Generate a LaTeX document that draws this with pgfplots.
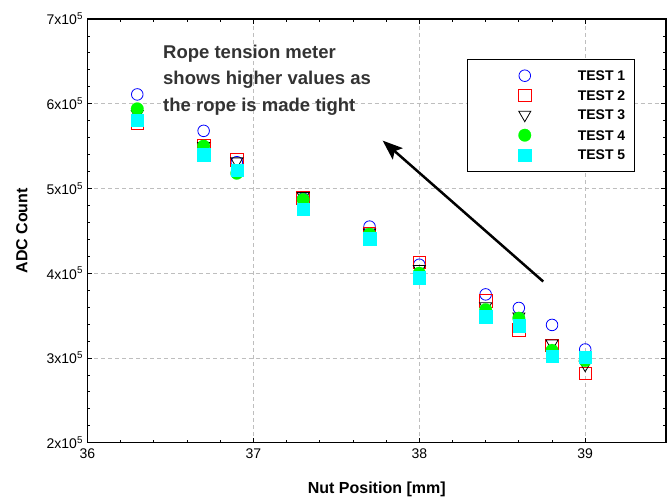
\documentclass[border=0pt]{standalone}
\usepackage{pgfplots}
\pgfplotsset{compat=1.18}
\usepackage{fontspec}
\setmainfont{Liberation Sans}
\usetikzlibrary{arrows.meta}
\definecolor{tblue}{RGB}{0,0,255}
\definecolor{tred}{RGB}{255,0,0}
\definecolor{tgreen}{RGB}{0,255,0}
\definecolor{tcyan}{RGB}{0,255,255}
\definecolor{gridgray}{RGB}{190,190,190}
\begin{document}
\begin{tikzpicture}
\begin{axis}[
  scale only axis, width=578.5pt, height=423.7pt,
  xmin=36, xmax=39.487, ymin=2e5, ymax=7e5,
  xtick={36,37,38,39}, xticklabels={36,37,38,39},
  ytick={2e5,3e5,4e5,5e5,6e5,7e5},
  yticklabels={2x10\textsuperscript{5},3x10\textsuperscript{5},4x10\textsuperscript{5},5x10\textsuperscript{5},6x10\textsuperscript{5},7x10\textsuperscript{5}},
  scaled y ticks=false, scaled x ticks=false,
  minor x tick num=4, minor y tick num=4,
  tick align=inside,
  major tick length=5pt, minor tick length=3pt,
  tick style={black, line width=0.8pt},
  axis line style={black, line width=1.3pt},
  grid=major,
  major grid style={gridgray, line width=0.7pt, dash pattern=on 4pt off 3pt},
  ticklabel style={font=\fontsize{14}{16}\selectfont},
  xticklabel style={yshift=-2.4pt},
  yticklabel style={xshift=-1pt},
  xlabel={Nut Position [mm]},
  ylabel={ADC Count},
  every axis x label/.style={at={(axis description cs:0.5,0)}, anchor=base, yshift=-50.3pt, font=\bfseries\fontsize{16}{18}\selectfont},
  every axis y label/.style={at={(axis description cs:-0.1135,0.5)}, rotate=90, anchor=center, font=\bfseries\fontsize{16}{18}\selectfont},
  legend style={at={(rel axis cs:0.6565,0.9056)}, anchor=north west, draw=black, line width=1pt, fill=white,
    inner xsep=9pt, inner ysep=10.2pt, row sep=7.2pt,
    nodes={inner sep=0pt, text depth=0pt},
    font=\bfseries\fontsize{14}{16}\selectfont},
  legend cell align=left,
  legend image code/.code={\path[draw=none,fill=none] (0pt,-6pt) rectangle (101pt,6pt);
    \draw[mark repeat=2,mark phase=2,#1] plot coordinates {(0pt,0pt) (48pt,0pt) (96pt,0pt)};},
]
\addplot[tblue, only marks, mark=o, mark size=5.8pt, mark options={solid, draw=tblue, fill=none, line width=0.8pt}] coordinates {
(36.3,6.11e5) (36.7,5.68e5) (36.9,5.31e5) (37.3,4.88e5) (37.7,4.55e5)
(38.0,4.10e5) (38.4,3.75e5) (38.6,3.59e5) (38.8,3.39e5) (39.0,3.10e5)};
\addlegendentry{TEST 1}
\addplot[tred, only marks, mark=square, mark size=6.3pt, mark options={solid, draw=tred, fill=none, line width=0.8pt}] coordinates {
(36.3,5.77e5) (36.7,5.50e5) (36.9,5.34e5) (37.3,4.89e5) (37.7,4.47e5)
(38.0,4.13e5) (38.4,3.67e5) (38.6,3.33e5) (38.8,3.15e5) (39.0,2.82e5)};
\addlegendentry{TEST 2}
\addplot[black, only marks, mark=triangle, mark size=7pt, mark options={solid, draw=black, fill=none, rotate=180, line width=0.8pt}] coordinates {
(36.3,5.88e5) (36.7,5.50e5) (36.9,5.32e5) (37.3,4.91e5) (37.7,4.48e5)
(38.0,4.05e5) (38.4,3.61e5) (38.6,3.49e5) (38.8,3.17e5) (39.0,2.92e5)};
\addlegendentry{TEST 3}
\addplot[tgreen, only marks, mark=*, mark size=6.3pt, mark options={solid, draw=tgreen, fill=tgreen, line width=0.2pt}] coordinates {
(36.3,5.94e5) (36.7,5.50e5) (36.9,5.18e5) (37.3,4.87e5) (37.7,4.46e5)
(38.0,4.00e5) (38.4,3.57e5) (38.6,3.47e5) (38.8,3.09e5) (39.0,2.97e5)};
\addlegendentry{TEST 4}
\addplot[tcyan, only marks, mark=square*, mark size=6.2pt, mark options={solid, draw=tcyan, fill=tcyan, line width=0.2pt}] coordinates {
(36.3,5.81e5) (36.7,5.40e5) (36.9,5.22e5) (37.3,4.76e5) (37.7,4.41e5)
(38.0,3.95e5) (38.4,3.49e5) (38.6,3.38e5) (38.8,3.02e5) (39.0,3.01e5)};
\addlegendentry{TEST 5}
\node[anchor=north west, align=left, inner sep=0pt, text=black!80,
  font=\bfseries\fontsize{18.5}{26.5}\selectfont] at (axis cs:36.455,6.697e5)
  {Rope tension meter\\shows higher values as\\the rope is made tight};
\draw[-{Stealth[length=20pt,width=15pt,inset=4pt]}, line width=2.5pt, black]
  (axis cs:38.747,3.902e5) -- (axis cs:37.779,5.565e5);
\end{axis}
\pgfresetboundingbox
\path (current axis.south west) ++(-87.5pt,-53.3pt) rectangle ++(667pt,496pt);
\end{tikzpicture}
\end{document}
